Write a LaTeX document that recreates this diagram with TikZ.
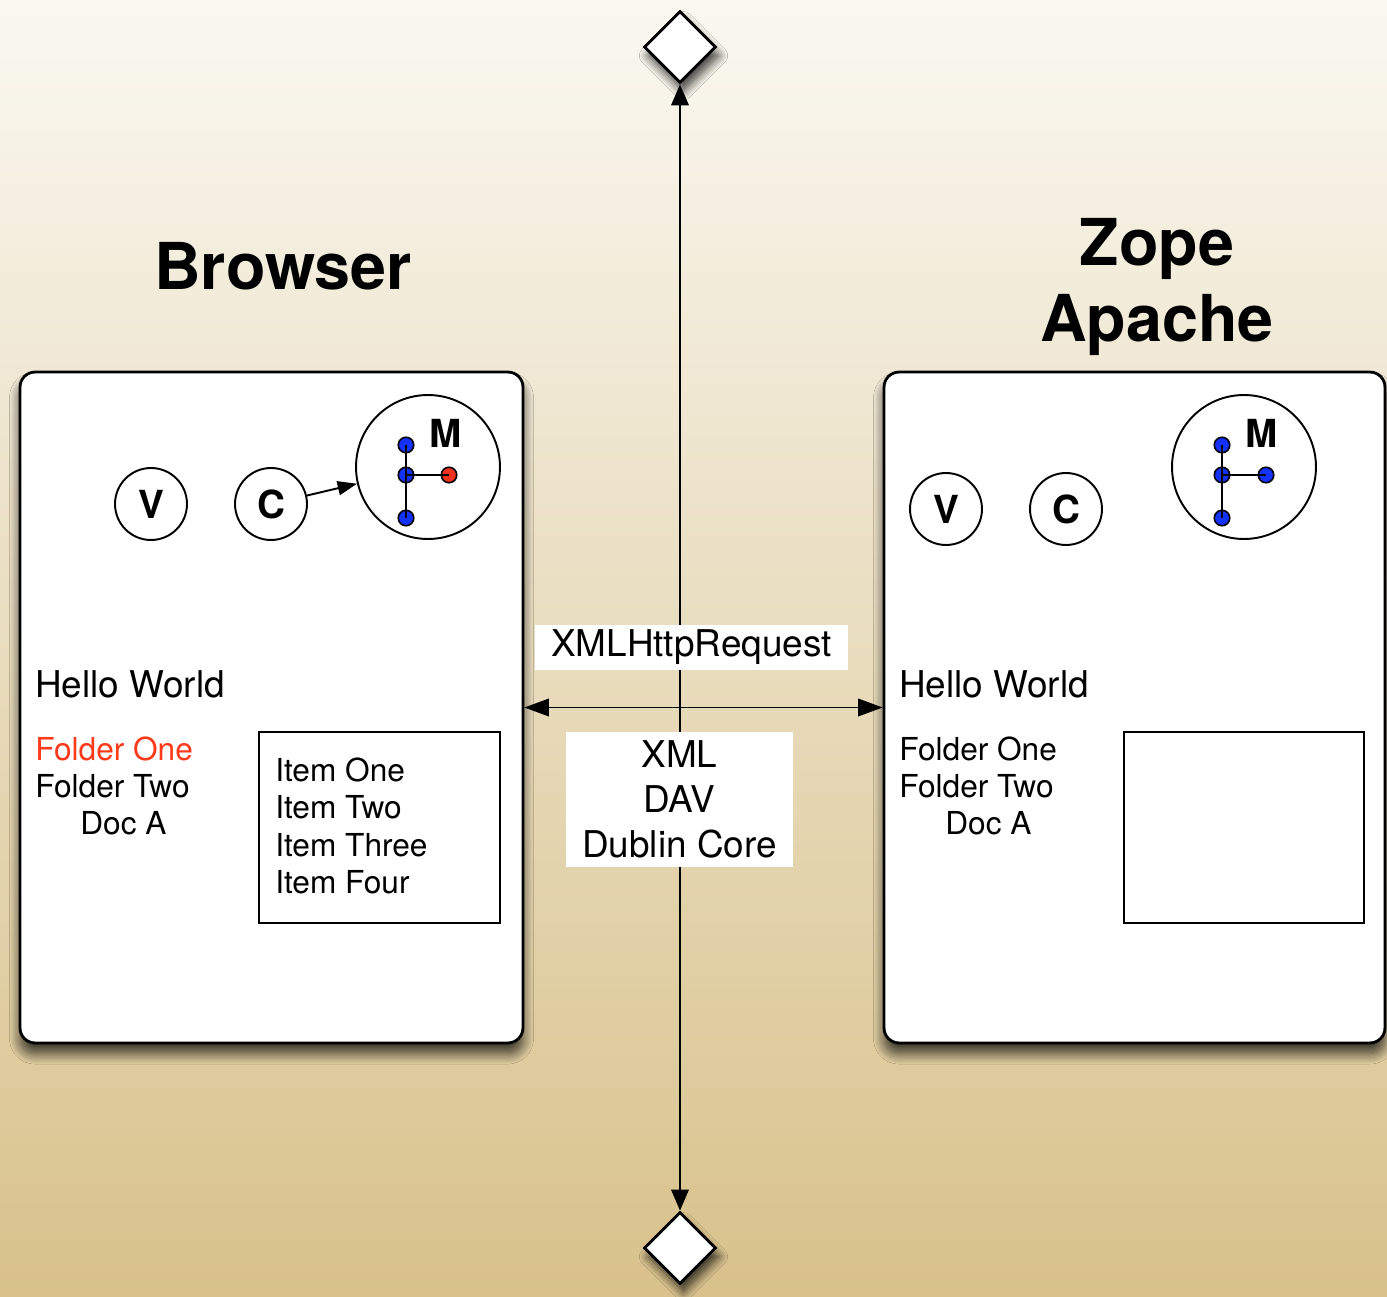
\documentclass[tikz,border=0pt]{standalone}
\usepackage{fontspec}
\setmainfont{TeX Gyre Heros}
\usepackage{tikz}
\usetikzlibrary{positioning,shapes.geometric,arrows.meta,shadows.blur}
\definecolor{cream}{HTML}{FAF8F1}
\definecolor{sand}{HTML}{D8C18B}
\definecolor{dotblue}{HTML}{1432FF}
\definecolor{dotred}{HTML}{F0321E}
\definecolor{linkred}{HTML}{FF3A1A}

\begin{document}
\begin{tikzpicture}[x=0.02cm, y=-0.02cm,
      panel/.style={rectangle, draw, line width=1.6pt, rounded corners=0.3cm, fill=white, inner sep=0pt,
        minimum height=13.42cm, blur shadow={shadow xshift=0pt, shadow yshift=-6pt, shadow blur radius=6pt, shadow opacity=75, shadow blur steps=12}},
      port/.style={diamond, draw, line width=1.6pt, fill=white, inner sep=0pt, minimum size=1.44cm,
        blur shadow={shadow xshift=2pt, shadow yshift=-5pt, shadow blur radius=5pt, shadow opacity=75, shadow blur steps=10}},
      mvc/.style={circle, draw, line width=1.1pt, fill=white, inner sep=0pt, minimum size=1.44cm,
        font=\fontsize{22}{22}\selectfont\bfseries},
      model/.style={circle, draw, line width=1.1pt, fill=white, inner sep=0pt, minimum size=2.88cm},
      dot/.style={circle, draw, line width=0.9pt, fill=dotblue, inner sep=0pt, minimum size=0.31cm},
      title/.style={anchor=base, font=\fontsize{36.8}{40}\selectfont\bfseries},
      txt/.style={anchor=base west, inner sep=0pt, font=\fontsize{21}{21}\selectfont},
      small/.style={anchor=base west, inner sep=0pt, font=\fontsize{18}{18}\selectfont},
      listbox/.style={rectangle, draw, line width=1.1pt, fill=white, minimum width=4.82cm, minimum height=3.82cm},
      tag/.style={rectangle, fill=white, inner sep=0pt, align=center, font=\fontsize{21}{25.5}\selectfont},
      link/.style={line width=1.1pt}
      ]
      % background
      \useasboundingbox (0,0) rectangle (1387,1297);
      \clip (0,0) rectangle (1387,1297);
      \shade[top color=cream, bottom color=sand] (0,0) rectangle (1387,1297);

      % titles
      \node[title] (BT) at (283,290) {Browser};
      \node[title] (ZT) at (1157,266) {Zope};
      \node[title] (AT) at (1157,342) {Apache};

      % panels
      \node[panel, minimum width=10.06cm] (BR) at (271.5,707.5) {};
      \node[panel, minimum width=10.02cm] (ZO) at (1134.5,707.5) {};

      % browser side
      \node[mvc] (BV) at (151,504) {V};
      \node[mvc] (BC) at (271,504) {C};
      \node[model] (BM) at (428,467) {};
      \node[font=\fontsize{22}{22}\selectfont\bfseries] (BML) at (446,433) {M};
      \node[dot] (BD1) at (406,445) {};
      \node[dot] (BD2) at (406,475) {};
      \node[dot] (BD3) at (406,518) {};
      \node[dot, fill=dotred] (BD4) at (449,475) {};
      \draw[link] (BD1.center) -- (BD3.center);
      \draw[link] (BD2.center) -- (BD4.center);
      \draw[link, -{Triangle[length=11pt, width=8pt]}] (BC) -- (BM);

      \node[txt] (BHW) at (35,697) {Hello World};
      \node[small, text=linkred] (BF1) at (35,760) {Folder One};
      \node[small] (BF2) at (35,797) {Folder Two};
      \node[small] (BDA) at (80,834) {Doc A};
      \node[listbox] (BL) at (379.5,827.5) {};
      \node[small] (BI1) at (275,781) {Item One};
      \node[small] (BI2) at (275,818) {Item Two};
      \node[small] (BI3) at (275,856) {Item Three};
      \node[small] (BI4) at (275,893) {Item Four};

      % zope side
      \node[mvc] (ZV) at (946,509) {V};
      \node[mvc] (ZC) at (1066,509) {C};
      \node[model] (ZM) at (1244,467) {};
      \node[font=\fontsize{22}{22}\selectfont\bfseries] (ZML) at (1262,433) {M};
      \node[dot] (ZD1) at (1222,445) {};
      \node[dot] (ZD2) at (1222,475) {};
      \node[dot] (ZD3) at (1222,518) {};
      \node[dot] (ZD4) at (1266,475) {};
      \draw[link] (ZD1.center) -- (ZD3.center);
      \draw[link] (ZD2.center) -- (ZD4.center);

      \node[txt] (ZHW) at (899,697) {Hello World};
      \node[small] (ZF1) at (899,760) {Folder One};
      \node[small] (ZF2) at (899,797) {Folder Two};
      \node[small] (ZDA) at (945,834) {Doc A};
      \node[listbox, minimum width=4.8cm] (ZL) at (1244,827.5) {};

      % wire between the two
      \node[port] (TOP) at (680,47) {};
      \node[port] (BOT) at (680,1248) {};
      \draw[link, {Triangle[length=12pt, width=10pt]}-{Triangle[length=12pt, width=10pt]}] (TOP) -- (BOT);
      \draw[link, {Triangle[length=14pt, width=10pt]}-{Triangle[length=14pt, width=10pt]}] (BR) -- (ZO);
      \node[tag, minimum width=6.26cm, minimum height=0.9cm] (XHR) at (691.5,647.5) {XMLHttpRequest};
      \node[tag, minimum width=4.54cm, minimum height=2.7cm] (FMT) at (679.5,799.5) {XML\\DAV\\Dublin Core};
    \end{tikzpicture}
\end{document}
